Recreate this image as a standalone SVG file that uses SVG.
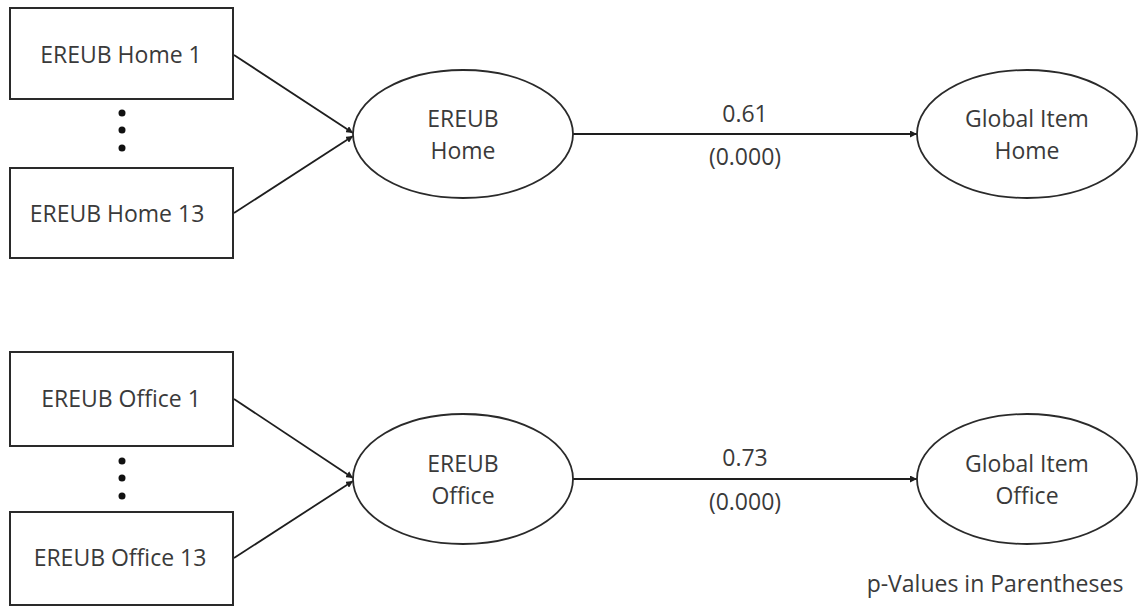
<svg xmlns="http://www.w3.org/2000/svg" width="1144" height="608" viewBox="0 0 1144 608">
  <style>
    .box { fill: #ffffff; stroke: #2a2a2a; stroke-width: 2; }
    .oval { fill: #ffffff; stroke: #2a2a2a; stroke-width: 1.8; }
    .edge { stroke: #1e1e1e; stroke-width: 1.8; fill: none; marker-end: url(#head); }
    .dot { fill: #111111; }
    text { font-family: "Open Sans", "Liberation Sans", sans-serif; font-size: 23px; fill: #3a3a3a; text-anchor: middle; }
  </style>
  <defs>
    <marker id="head" viewBox="0 0 10 10" refX="10" refY="5" markerWidth="7" markerHeight="7" markerUnits="userSpaceOnUse" orient="auto">
      <path d="M0,0 L10,5 L0,10 z" fill="#1e1e1e"/>
    </marker>
  </defs>
  <rect width="1144" height="608" fill="#ffffff"/>

  <!-- connectors -->
  <g id="connectors">
    <line class="edge" x1="234" y1="55" x2="353" y2="133"/>
    <line class="edge" x1="234" y1="213" x2="353" y2="136"/>
    <line class="edge" x1="573" y1="134" x2="917" y2="134"/>
    <line class="edge" x1="234" y1="399" x2="353" y2="478"/>
    <line class="edge" x1="234" y1="558" x2="353" y2="481"/>
    <line class="edge" x1="573" y1="479" x2="917" y2="479"/>
    <text x="745" y="122">0.61</text>
    <text x="745" y="165">(0.000)</text>
    <text x="745" y="466">0.73</text>
    <text x="745" y="510">(0.000)</text>
  </g>

  <!-- Home model -->
  <g id="home1">
    <rect class="box" x="10" y="8" width="223" height="91"/>
    <text x="121" y="63">EREUB Home 1</text>
  </g>
  <g id="home-dots">
    <circle class="dot" cx="122" cy="113" r="3.5"/>
    <circle class="dot" cx="122" cy="130" r="3.5"/>
    <circle class="dot" cx="122" cy="148" r="3.5"/>
  </g>
  <g id="home13">
    <rect class="box" x="10" y="168" width="223" height="90"/>
    <text x="117" y="222">EREUB Home 13</text>
  </g>
  <g id="ereub-home">
    <ellipse class="oval" cx="463" cy="134" rx="110" ry="64"/>
    <text x="463" y="127">EREUB</text>
    <text x="463" y="159">Home</text>
  </g>
  <g id="global-home">
    <ellipse class="oval" cx="1027" cy="134" rx="110" ry="64"/>
    <text x="1027" y="127">Global Item</text>
    <text x="1027" y="159">Home</text>
  </g>

  <!-- Office model -->
  <g id="office1">
    <rect class="box" x="10" y="352" width="223" height="94"/>
    <text x="121" y="407">EREUB Office 1</text>
  </g>
  <g id="office-dots">
    <circle class="dot" cx="122" cy="461" r="3.5"/>
    <circle class="dot" cx="122" cy="478" r="3.5"/>
    <circle class="dot" cx="122" cy="496" r="3.5"/>
  </g>
  <g id="office13">
    <rect class="box" x="10" y="512" width="223" height="93"/>
    <text x="120" y="566">EREUB Office 13</text>
  </g>
  <g id="ereub-office">
    <ellipse class="oval" cx="463" cy="479" rx="110" ry="65"/>
    <text x="463" y="472">EREUB</text>
    <text x="463" y="504">Office</text>
  </g>
  <g id="global-office">
    <ellipse class="oval" cx="1027" cy="479" rx="110" ry="65"/>
    <text x="1027" y="472">Global Item</text>
    <text x="1027" y="504">Office</text>
  </g>

  <g id="note">
    <text x="995" y="592">p-Values in Parentheses</text>
  </g>
</svg>
